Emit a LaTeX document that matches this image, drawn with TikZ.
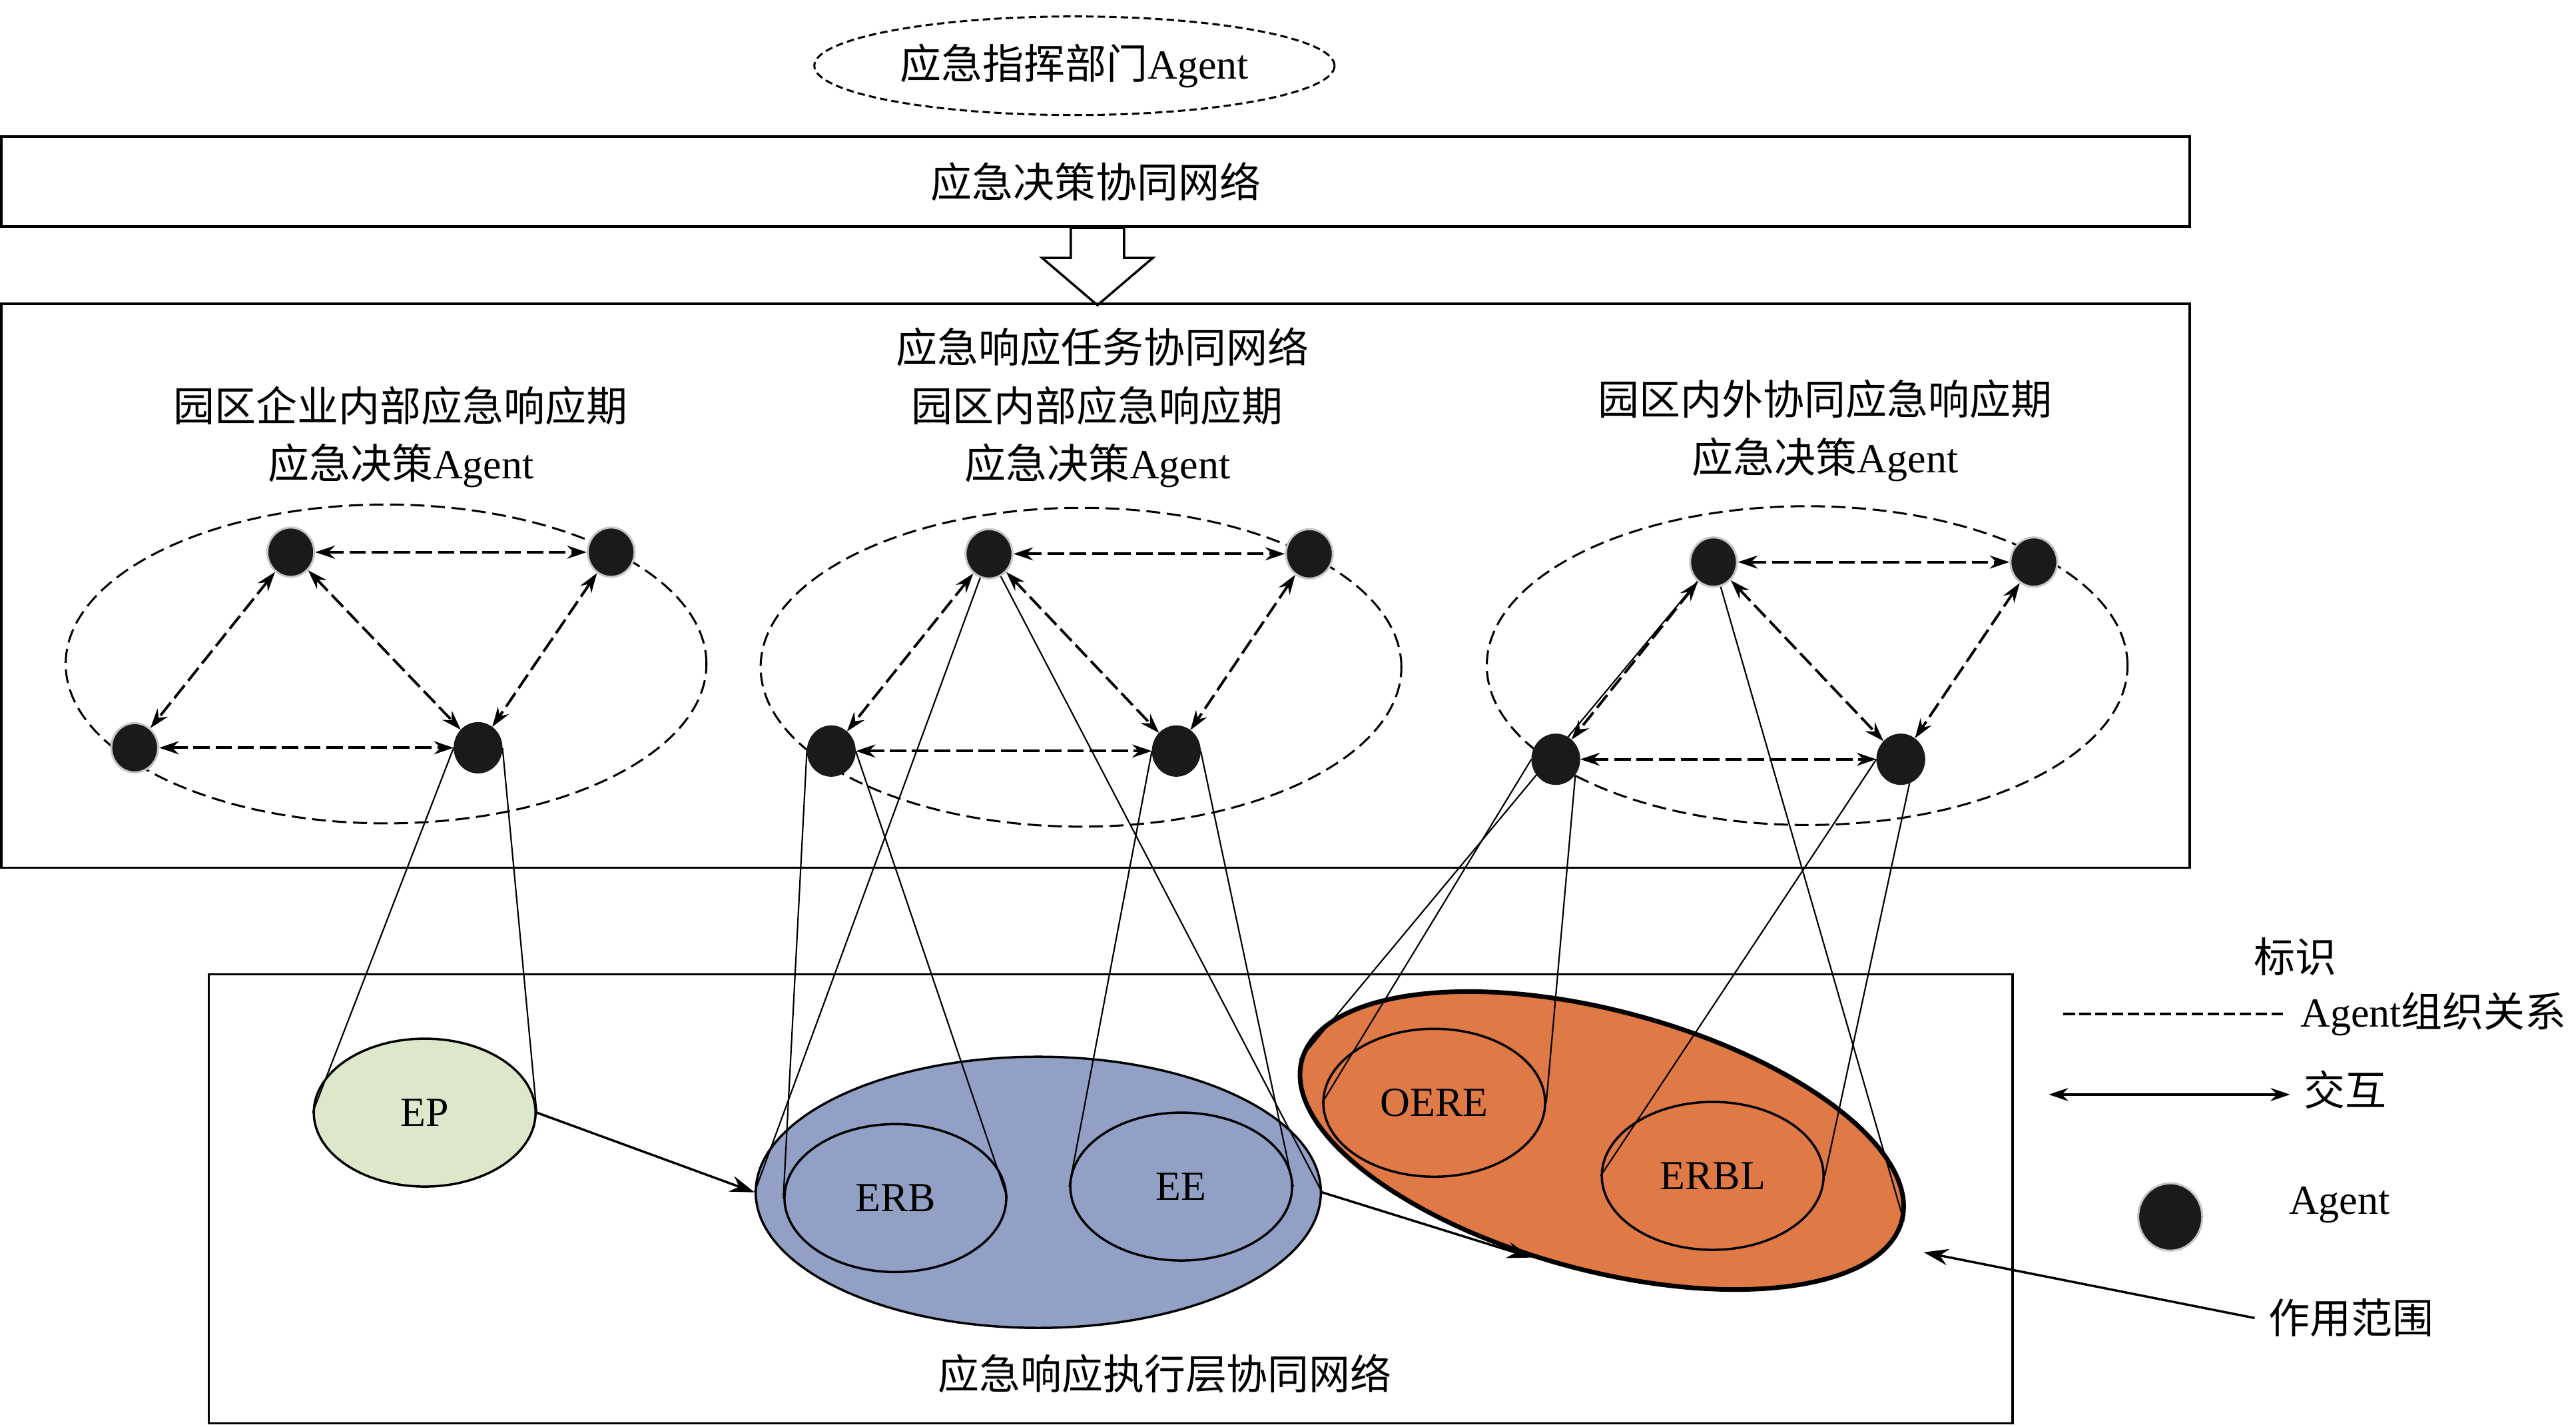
\documentclass[tikz,border=0pt]{standalone}
\usepackage{fontspec}
\setmainfont{Liberation Serif}
\newfontfamily\cjk{Noto Sans CJK SC}
\usetikzlibrary{arrows.meta,shapes.geometric,shapes.arrows}
\definecolor{epgreen}{RGB}{221,231,202}
\definecolor{rblue}{RGB}{145,160,196}
\definecolor{rorange}{RGB}{223,121,69}
\definecolor{dotblack}{RGB}{26,26,26}
\pgfdeclarelayer{front}
\pgfsetlayers{main,front}

\begin{document}
\begin{tikzpicture}[x=0.2mm,y=-0.2mm,
	font=\fontsize{14.3pt}{19.9pt}\selectfont,
	>={Stealth[length=2.4mm,width=1.6mm,inset=0.8mm]},
	box/.style={draw,line width=0.9pt,inner sep=0pt},
	agent/.style={ellipse,fill=dotblack,draw=gray!45,line width=0.7pt,minimum width=5.7mm,minimum height=6mm,inner sep=0pt},
	agentp/.style={agent,draw=dotblack},
	grpring/.style={ellipse,draw,line width=0.7pt,dash pattern=on 1.7mm off 0.8mm,minimum width=78mm,minimum height=38.8mm},
	rel/.style={<->,line width=0.9pt,dash pattern=on 2mm off 0.7mm},
	link/.style={line width=0.5pt},
	unitell/.style={ellipse,draw,line width=0.8pt,minimum width=27mm,minimum height=18mm,inner sep=0pt},
	flow/.style={-{Stealth[length=3mm,width=2mm,inset=1mm]},line width=0.8pt},
	legtext/.style={inner sep=1.6mm}]
	\useasboundingbox (0,0) rectangle (1568,868);

	\node[ellipse,draw,line width=0.7pt,dash pattern=on 0.9mm off 0.5mm,minimum width=63.2mm,minimum height=12mm] (cmd) at (654,40) {{\cjk 应急指挥部门}Agent};
	\node[box,minimum width=266.4mm,minimum height=11mm] (dec) at (667,110.5) {\cjk 应急决策协同网络};
	\node[single arrow,draw,fill=white,line width=0.8pt,rotate=-90,anchor=tail,minimum height=9.4mm,single arrow head extend=3.5mm,single arrow tip angle=99,inner sep=0pt] (down) at (668,138) {\rule{0pt}{6.2mm}};
	\node[box,minimum width=266.4mm,minimum height=68.6mm] (task) at (667,356.5) {};
	\node (tasktitle) at (671,211) {\cjk 应急响应任务协同网络};

	\node[align=center] (t1) at (244,266) {{\cjk 园区企业内部应急响应期}\\{\cjk 应急决策}Agent};
	\node[align=center] (t2) at (668,266) {{\cjk 园区内部应急响应期}\\{\cjk 应急决策}Agent};
	\node[align=center] (t3) at (1111,262) {{\cjk 园区内外协同应急响应期}\\{\cjk 应急决策}Agent};

	\node[grpring] (ring1) at (235,404) {};
	\node[grpring] (ring2) at (658,406) {};
	\node[grpring] (ring3) at (1100,405) {};

	\begin{pgfonlayer}{front}
	\node[agent] (a1) at (177,336) {};
	\node[agent] (b1) at (372,336) {};
	\node[agent] (c1) at (82,455) {};
	\node[agentp] (d1) at (291,455) {};
	\node[agent] (a2) at (602,337) {};
	\node[agent] (b2) at (797,337) {};
	\node[agentp] (c2) at (506,457) {};
	\node[agentp] (d2) at (716,457) {};
	\node[agent] (a3) at (1043,342) {};
	\node[agent] (b3) at (1238,342) {};
	\node[agentp] (c3) at (947,462) {};
	\node[agentp] (d3) at (1157,462) {};
	\end{pgfonlayer}

	\draw[rel] (a1) -- (b1);
	\draw[rel] (a1) -- (c1);
	\draw[rel] (a1) -- (d1);
	\draw[rel] (b1) -- (d1);
	\draw[rel] (c1) -- (d1);
	\draw[rel] (a2) -- (b2);
	\draw[rel] (a2) -- (c2);
	\draw[rel] (a2) -- (d2);
	\draw[rel] (b2) -- (d2);
	\draw[rel] (c2) -- (d2);
	\draw[rel] (a3) -- (b3);
	\draw[rel] (a3) -- (c3);
	\draw[rel] (a3) -- (d3);
	\draw[rel] (b3) -- (d3);
	\draw[rel] (c3) -- (d3);

	\node[box,line width=0.75pt,minimum width=219.6mm,minimum height=54.6mm] (exec) at (676,729.5) {};
	\node (exectitle) at (709,836) {\cjk 应急响应执行层协同网络};
	\node[ellipse,draw,fill=rblue,line width=0.8pt,minimum width=68.8mm,minimum height=33mm] (erbee) at (632,725.5) {};
	\node[ellipse,draw,fill=rorange,line width=1.6pt,minimum width=75.6mm,minimum height=31.6mm,rotate=-15] (oerbl) at (975,694) {};
	\node[unitell,fill=epgreen] (ep) at (258.5,677) {EP};
	\node[unitell] (erb) at (545,729) {ERB};
	\node[unitell] (ee) at (719,722) {\raisebox{-1mm}{EE}};
	\node[unitell] (oere) at (873,671) {OERE};
	\node[unitell] (erbl) at (1042.5,715.5) {ERBL};

	\draw[link] (d1.west) -- (ep.west);
	\draw[link] (d1.east) -- (ep.east);
	\draw[link] (c2.west) -- (erb.west);
	\draw[link] (c2.east) -- (erb.east);
	\draw[link] (a2) -- (erbee.west);
	\draw[link] (a2) -- (erbee.east);
	\draw[link] (d2.west) -- (ee.west);
	\draw[link] (d2.east) -- (ee.east);
	\draw[link] (c3.west) -- (oere.west);
	\draw[link] (c3.-38) -- (oere.east);
	\draw[link] (a3) -- (oerbl.west);
	\draw[link] (a3) -- (oerbl.east);
	\draw[link] (d3.west) -- (erbl.west);
	\draw[link] (d3.-70) -- (erbl.east);
	\draw[flow] (ep.east) -- (erbee.west);
	\draw[flow] (erbee.east) -- (oerbl.254);

	\node (legtitle) at (1397,582) {\cjk 标识};
	\coordinate (lrel) at (1256,617);
	\node[legtext,anchor=west] (legrel) at (1392,617) {Agent{\cjk 组织关系}};
	\draw[line width=0.75pt,dash pattern=on 1.4mm off 0.55mm] (lrel) -- (legrel.west);
	\coordinate (lint) at (1247,666);
	\node[legtext,anchor=west] (legint) at (1394,663) {\cjk 交互};
	\draw[<->,line width=0.8pt] (lint) -- (lint -| legint.west);
	\node[agent,minimum width=7.8mm,minimum height=8.2mm] (legdot) at (1321,740.5) {};
	\node (legagent) at (1424,733) {Agent};
	\node[legtext] (legscope) at (1431,802) {\cjk 作用范围};
	\coordinate (scopetip) at (1171,762);
	\draw[flow] (legscope.west) -- (scopetip);
\end{tikzpicture}
\end{document}
